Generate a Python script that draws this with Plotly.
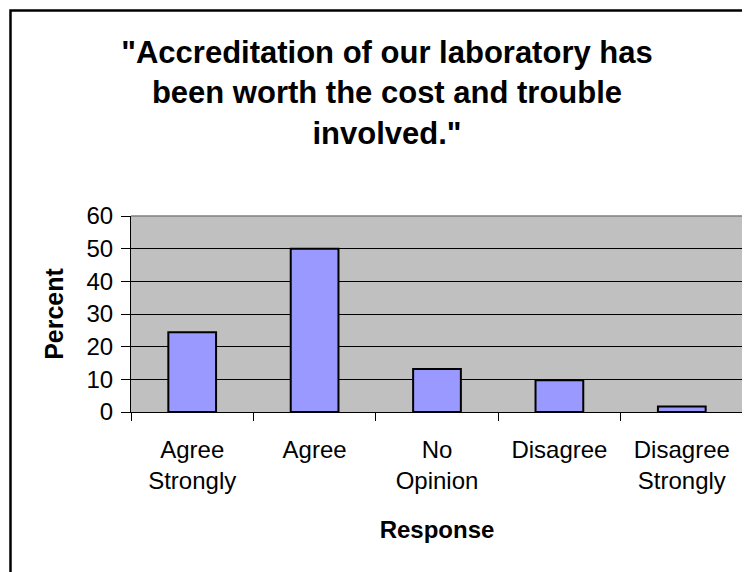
import plotly.graph_objects as go

# survey responses
responses = ["Agree<br>Strongly", "Agree", "No<br>Opinion", "Disagree", "Disagree<br>Strongly"]
percent = [24.4, 50.0, 13.2, 9.7, 1.7]

FONT = "Liberation Sans, Arial, sans-serif"

fig = go.Figure()
fig.add_trace(
    go.Bar(x=responses, y=percent,
           marker=dict(color="#9999FF", line=dict(color="black", width=2)),
           hoverinfo="x+y")
)

# plot area border (top / right in grey) and outer chart frame
fig.add_shape(type="line", xref="paper", yref="paper", x0=0, x1=1, y0=1, y1=1,
              line=dict(color="#808080", width=1.5))
fig.add_shape(type="line", xref="paper", yref="paper", x0=1, x1=1, y0=0, y1=1,
              line=dict(color="#808080", width=1.5))
fig.add_shape(type="rect", xref="paper", yref="paper",
              x0=-0.1969, x1=1.05, y0=-1.0, y1=2.049,
              line=dict(color="black", width=2.5), fillcolor="rgba(0,0,0,0)")

# page body adds an 8px margin, so the figure is 8px smaller than the window
fig.update_layout(
    width=742, height=564,
    autosize=False,
    paper_bgcolor="white",
    plot_bgcolor="#C0C0C0",
    margin=dict(l=123, r=7, t=208, b=160),
    bargap=0.61,
    showlegend=False,
    font=dict(family=FONT, color="black", size=24),
    title=dict(
        text="<b>\"Accreditation of our laboratory has<br>been worth the cost and trouble<br>involved.\"</b>",
        font=dict(family=FONT, size=31, color="black"),
        x=379 / 742, xref="container", xanchor="center",
        y=1 - 55 / 564, yref="container", yanchor="top",
    ),
)
fig.update_xaxes(
    type="category",
    showline=True, linecolor="black", linewidth=1,
    ticks="outside", tickson="boundaries", ticklen=8, tickcolor="black",
    tickfont=dict(family=FONT, size=24),
    ticklabelstandoff=16,
    showgrid=False,
    title=dict(text="<b>Response</b>", font=dict(family=FONT, size=24), standoff=28),
)
fig.update_yaxes(
    range=[0, 60], dtick=10,
    showline=True, linecolor="black", linewidth=1,
    ticks="outside", ticklen=9, tickcolor="black",
    tickfont=dict(family=FONT, size=24),
    ticklabelstandoff=3,
    showgrid=True, gridcolor="black", gridwidth=1,
    zeroline=False,
    title=dict(text="<b>Percent</b>", font=dict(family=FONT, size=25), standoff=15),
)

fig.write_html("out.html")
